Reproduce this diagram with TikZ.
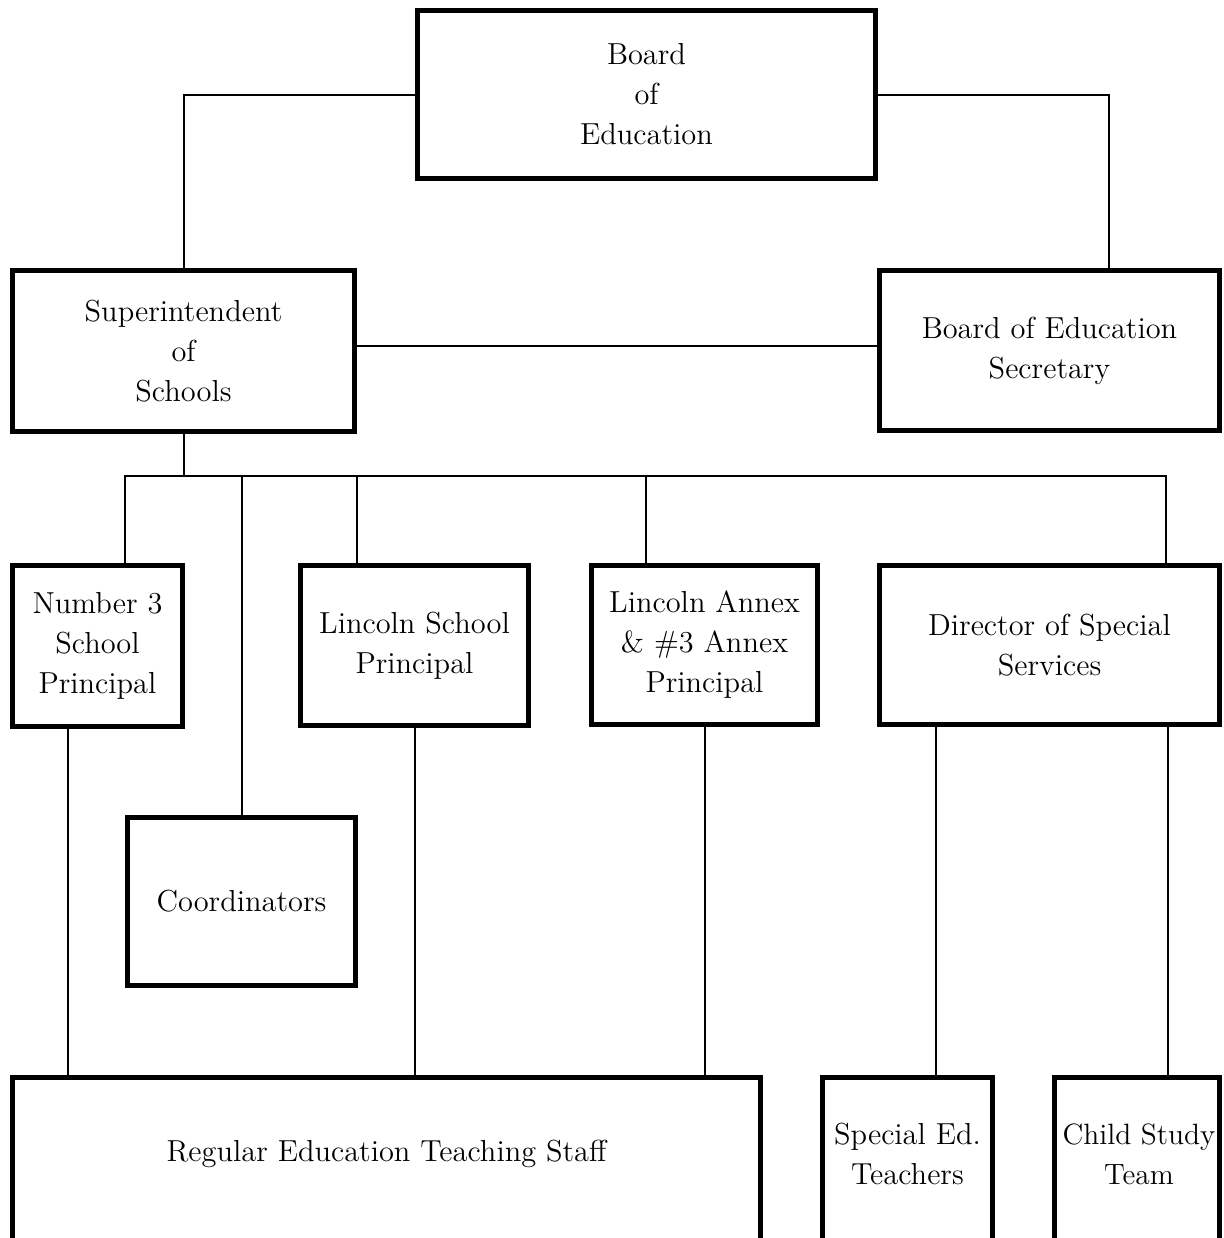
\documentclass[tikz,border=0pt]{standalone}
\usepackage{fontspec}
\setmainfont{lmroman12-regular}[Extension=.otf]
\begin{document}
\begin{tikzpicture}[x=0.5pt,y=-0.5pt,
  boxfont/.style={font=\fontsize{15.2}{20}\selectfont},
  box/.style={draw, line width=2.5pt, inner sep=0pt, align=center, boxfont},
  uptext/.style={label={[align=center, boxfont, yshift=2.5pt]center:#1}},
  conn/.style={line width=1pt}]
\useasboundingbox (0,0) rectangle (1224,1238);
\clip (0,0) rectangle (1224,1238);

% boxes
\node[box,minimum width=229pt,minimum height=84pt] (board) at (646.5,94.5) {Board\\of\\Education};
\node[box,minimum width=171pt,minimum height=80.5pt] (sup) at (183.5,351) {Superintendent\\of\\Schools};
\node[box,minimum width=170pt,minimum height=80pt] (sec) at (1049.5,350.5) {Board of Education\\Secretary};
\node[box,minimum width=85pt,minimum height=80.5pt] (num3) at (97.5,646) {Number 3\\School\\Principal};
\node[box,minimum width=114pt,minimum height=80pt] (linc) at (414.5,645.5) {Lincoln School\\Principal};
\node[box,minimum width=113pt,minimum height=79.5pt] (annex) at (704.5,645) {Lincoln Annex\\\& \#3 Annex\\Principal};
\node[box,minimum width=170pt,minimum height=79.5pt] (dir) at (1049.5,645) {Director of Special\\Services};
\node[box,minimum width=114pt,minimum height=84pt] (coord) at (241.5,901.5) {Coordinators};
\node[box,minimum width=374pt,minimum height=81.75pt,
      uptext={Regular Education Teaching Staff}] (reg) at (386.5,1159.25) {};
\node[box,minimum width=85pt,minimum height=81.75pt,
      uptext={Special Ed.\\Teachers}] (sped) at (907.5,1159.25) {};
\node[box,minimum width=82.5pt,minimum height=81.75pt,
      label={[align=center, font=\fontsize{14.7}{20}\selectfont, yshift=2.5pt, xshift=1pt]center:{Child Study\\Team}}] (cst) at (1137,1159.25) {};

% helper coordinates
\coordinate (kR) at (1109,0);
\coordinate (h346) at (0,346);
\coordinate (busL) at (125,476);
\coordinate (busR) at (1166,476);
\coordinate (d357) at (357,0);
\coordinate (d646) at (646,0);
\coordinate (d68) at (68,0);
\coordinate (d936) at (936,0);
\coordinate (d1168) at (1168,0);

% connectors
\draw[conn] (board.west) -| (sup.north);
\draw[conn] (board.east) -| (sec.north -| kR);
\draw[conn] (sup.east |- h346) -- (sec.west |- h346);
\draw[conn] (sup.south) -- (sup.south |- busL);
\draw[conn] (num3.north -| busL) -- (busL) -- (busR) -- (dir.north -| busR);
\draw[conn] (coord.north |- busL) -- (coord.north);
\draw[conn] (d357 |- busL) -- (linc.north -| d357);
\draw[conn] (d646 |- busL) -- (annex.north -| d646);
\draw[conn] (num3.south -| d68) -- (reg.north -| d68);
\draw[conn] (linc.south) -- (reg.north -| linc.south);
\draw[conn] (annex.south) -- (reg.north -| annex.south);
\draw[conn] (dir.south -| d936) -- (sped.north -| d936);
\draw[conn] (dir.south -| d1168) -- (cst.north -| d1168);
\end{tikzpicture}
\end{document}
